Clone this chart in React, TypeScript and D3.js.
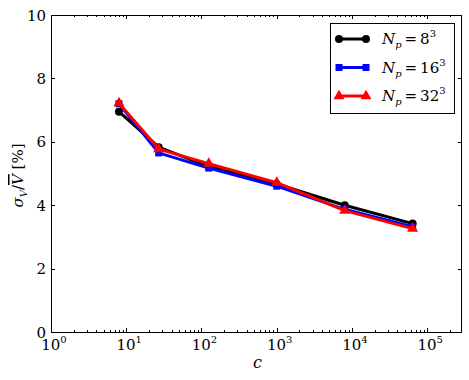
import React, { useRef, useEffect } from 'react';
import * as d3 from 'd3';

// cluster sizes c (cubes) and sigma_V / V-bar in percent
const cValues = [8, 27, 125, 1000, 8000, 64000];
const np8 = [6.95, 5.83, 5.22, 4.67, 4.0, 3.42];
const np16 = [7.2, 5.65, 5.17, 4.6, 3.87, 3.32];
const np32 = [7.22, 5.77, 5.31, 4.71, 3.83, 3.26];
const seriesNames = ['8', '16', '32'];
const yTicks = [0, 2, 4, 6, 8, 10];
const xDecades = [0, 1, 2, 3, 4, 5];

const App = () => {
    const ref = useRef<SVGSVGElement>(null);

    useEffect(() => {
        if (!ref.current) return;
        const svg = d3.select(ref.current);
        svg.selectAll('*').remove();

        const left = 51, right = 462, top = 15, bottom = 332;
        const font = 'DejaVu Serif';

        const x = d3.scaleLog().domain([1, 2.9e5]).range([left, right]);
        const y = d3.scaleLinear().domain([0, 10]).range([bottom, top]);

        svg.append('rect')
            .attr('width', 469).attr('height', 380).attr('fill', '#fff');

        const g = svg.append('g').style('font-family', font);

        // ticks (inward, all four sides)
        const minor: number[] = [];
        xDecades.forEach(k => {
            for (let m = 2; m <= 9; m++) {
                const v = m * Math.pow(10, k);
                if (v < 2.9e5) minor.push(v);
            }
        });
        const tickG = g.append('g').attr('stroke', '#000').attr('stroke-width', 1);
        xDecades.forEach(k => {
            const px = Math.round(x(Math.pow(10, k))) + 0.5;
            tickG.append('line').attr('x1', px).attr('x2', px).attr('y1', bottom).attr('y2', bottom - 4);
            tickG.append('line').attr('x1', px).attr('x2', px).attr('y1', top).attr('y2', top + 4);
        });
        minor.forEach(v => {
            const px = Math.round(x(v)) + 0.5;
            tickG.append('line').attr('x1', px).attr('x2', px).attr('y1', bottom).attr('y2', bottom - 2);
            tickG.append('line').attr('x1', px).attr('x2', px).attr('y1', top).attr('y2', top + 2);
        });
        yTicks.forEach(t => {
            const py = Math.round(y(t)) + 0.5;
            tickG.append('line').attr('x1', left).attr('x2', left + 4).attr('y1', py).attr('y2', py);
            tickG.append('line').attr('x1', right).attr('x2', right - 4).attr('y1', py).attr('y2', py);
        });

        // tick labels
        yTicks.forEach(t => {
            g.append('text')
                .attr('x', left - 5).attr('y', y(t) + 5.5)
                .attr('text-anchor', 'end')
                .attr('font-size', 15)
                .text(t);
        });
        xDecades.forEach(k => {
            const t = g.append('text')
                .attr('x', x(Math.pow(10, k)) + 3).attr('y', bottom + 18)
                .attr('text-anchor', 'middle')
                .attr('font-size', 15);
            t.append('tspan').text('10');
            t.append('tspan').attr('dy', -7).attr('font-size', 10).text(k);
        });

        // axis labels
        g.append('text')
            .attr('x', (left + right) / 2 + 1).attr('y', 368)
            .attr('text-anchor', 'middle')
            .attr('font-size', 16).attr('font-style', 'italic')
            .text('c');

        const yl = g.append('text')
            .attr('transform', `translate(23,${(top + bottom) / 2 + 2}) rotate(-90)`)
            .attr('text-anchor', 'middle')
            .attr('font-size', 15);
        yl.append('tspan').attr('font-style', 'italic').text('σ');
        yl.append('tspan').attr('dy', 4).attr('font-size', 10).attr('font-style', 'italic').text('V');
        yl.append('tspan').attr('dy', -4).text('/');
        yl.append('tspan').attr('font-style', 'italic').attr('text-decoration', 'overline').text('V');
        yl.append('tspan').text(' [%]');

        // series
        const data = [
            { vals: np8, color: '#000', marker: 'circle' },
            { vals: np16, color: '#0000ff', marker: 'square' },
            { vals: np32, color: '#ff0000', marker: 'triangle' },
        ];
        const line = d3.line<number>()
            .x((_, i) => x(cValues[i]))
            .y(d => y(d));

        const symbolFor = (m: string) => {
            if (m === 'circle') return d3.symbol(d3.symbolCircle, 50)();
            if (m === 'square') return d3.symbol(d3.symbolSquare, 49)();
            return d3.symbol(d3.symbolTriangle, 52)();
        };

        data.forEach(s => {
            g.append('path')
                .attr('d', line(s.vals))
                .attr('fill', 'none')
                .attr('stroke', s.color)
                .attr('stroke-width', 3)
                .attr('stroke-linejoin', 'round');
            g.selectAll(null)
                .data(s.vals)
                .enter().append('path')
                .attr('d', symbolFor(s.marker))
                .attr('transform', (d, i) => `translate(${x(cValues[i])},${y(d)})`)
                .attr('fill', s.color);
        });

        // frame
        g.append('rect')
            .attr('x', left + 0.5).attr('y', top + 0.5)
            .attr('width', right - left - 1).attr('height', bottom - top)
            .attr('fill', 'none').attr('stroke', '#000').attr('stroke-width', 1);

        // legend
        const lx = 330, ly = 23;
        const leg = g.append('g');
        leg.append('rect')
            .attr('x', lx + 0.5).attr('y', ly + 0.5)
            .attr('width', 124).attr('height', 90)
            .attr('fill', '#fff').attr('stroke', '#000').attr('stroke-width', 1);
        data.forEach((s, i) => {
            const cy = ly + 16 + i * 28.5;
            leg.append('line')
                .attr('x1', lx + 9).attr('x2', lx + 36)
                .attr('y1', cy).attr('y2', cy)
                .attr('stroke', s.color).attr('stroke-width', 3);
            [lx + 9, lx + 36].forEach(px => {
                leg.append('path')
                    .attr('d', symbolFor(s.marker))
                    .attr('transform', `translate(${px},${cy})`)
                    .attr('fill', s.color);
            });
            const t = leg.append('text')
                .attr('x', lx + 52).attr('y', cy + 5)
                .attr('font-size', 15);
            t.append('tspan').attr('font-style', 'italic').text('N');
            t.append('tspan').attr('dy', 4).attr('font-size', 10).attr('font-style', 'italic').text('p');
            t.append('tspan').attr('dy', -4).text('\u2009=\u2009' + seriesNames[i]);
            t.append('tspan').attr('dy', -7).attr('font-size', 10).text('3');
        });
    }, []);

    return <svg ref={ref} width={469} height={380} style={{ position: 'absolute', left: 0, top: 0 }} />;
};

export default App;
